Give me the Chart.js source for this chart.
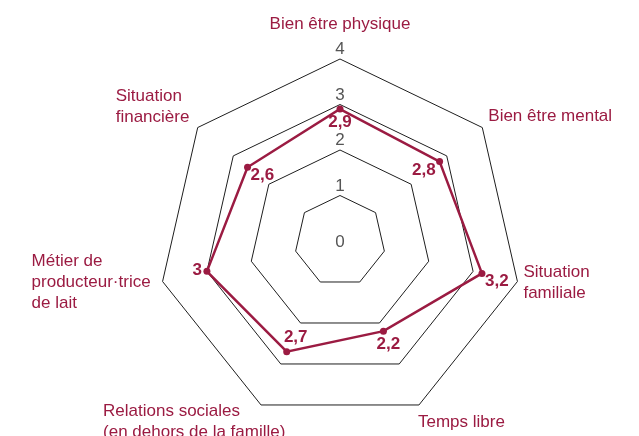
<!DOCTYPE html>
<html lang="fr">
<head>
<meta charset="utf-8">
<title>Bien-être des producteur·trices de lait</title>
<script src="https://cdn.jsdelivr.net/npm/chart.js@4/dist/chart.umd.min.js"></script>
<style>
  html, body { margin: 0; padding: 0; background: #ffffff; }
  #wrap { width: 639px; height: 436px; position: relative; overflow: hidden; }
</style>
</head>
<body>
<div id="wrap"><canvas id="radar" width="639" height="436"></canvas></div>
<script>
/* ── Data ───────────────────────────────────────────────────────────────────── */
const CATEGORIES = [
  ["Bien être physique"],
  ["Bien être mental"],
  ["Situation", "familiale"],
  ["Temps libre"],
  ["Relations sociales", "(en dehors de la famille)"],
  ["Métier de", "producteur·trice", "de lait"],
  ["Situation", "financière"],
];
const SCORES = [2.9, 2.8, 3.2, 2.2, 2.7, 3, 2.6];
const TICK_VALUES = [0, 1, 2, 3, 4];

/* ── Style ──────────────────────────────────────────────────────────────────── */
const CRIMSON = "#9b1b42";
const GRID = "#1e1e1e";
const TICK_COLOR = "#555555";
const FONT = '"Liberation Sans", Arial, Helvetica, sans-serif';

// label offsets from the outer vertex (category labels) / from the point (values)
const CAT_OFFSETS = [
  { dx: 0,    dy: -30,  align: "center" },
  { dx: 6,    dy: -7,   align: "left" },
  { dx: 6,    dy: -4,   align: "left" },
  { dx: -1,   dy: 22,   align: "left" },
  { dx: -158, dy: 11,   align: "left" },
  { dx: -131, dy: -15,  align: "left" },
  { dx: -82,  dy: -27,  align: "left" },
];
const VALUE_OFFSETS = [
  { dx: 0,  dy: 13,  align: "center" },
  { dx: -4, dy: 9,   align: "right" },
  { dx: 3,  dy: 8,   align: "left" },
  { dx: 5,  dy: 13,  align: "center" },
  { dx: 9,  dy: -14, align: "center" },
  { dx: -5, dy: -1,  align: "right" },
  { dx: 3,  dy: 8,   align: "left" },
];

/* ── Overlay plugin: tick numbers, category labels, value labels ───────────── */
const overlay = {
  id: "overlay",
  afterDraw(chart) {
    const ctx = chart.ctx;
    const r = chart.scales.r;
    ctx.save();

    // tick numbers, sitting just above the top vertex of each ring
    ctx.font = `17px ${FONT}`;
    ctx.fillStyle = TICK_COLOR;
    ctx.textAlign = "center";
    TICK_VALUES.forEach((v) => {
      const p = r.getPointPosition(0, r.getDistanceFromCenterForValue(v));
      if (v === 0) {
        ctx.textBaseline = "middle";
        ctx.fillText(String(v), p.x, p.y + 1);
      } else {
        ctx.textBaseline = "alphabetic";
        ctx.fillText(String(v), p.x, p.y - 5);
      }
    });

    // category labels
    ctx.fillStyle = CRIMSON;
    ctx.textBaseline = "alphabetic";
    CATEGORIES.forEach((lines, i) => {
      const p = r.getPointPosition(i, r.drawingArea);
      const o = CAT_OFFSETS[i];
      ctx.textAlign = o.align;
      lines.forEach((line, k) => {
        ctx.fillText(line, p.x + o.dx, p.y + o.dy + k * 21);
      });
    });

    // value labels (French decimal comma)
    ctx.font = `bold 17px ${FONT}`;
    ctx.textBaseline = "middle";
    const meta = chart.getDatasetMeta(0);
    meta.data.forEach((pt, i) => {
      const o = VALUE_OFFSETS[i];
      ctx.textAlign = o.align;
      ctx.fillText(String(SCORES[i]).replace(".", ","), pt.x + o.dx, pt.y + o.dy);
    });

    ctx.restore();
  },
};

/* ── Chart ──────────────────────────────────────────────────────────────────── */
new Chart(document.getElementById("radar"), {
  type: "radar",
  data: {
    labels: CATEGORIES,
    datasets: [{
      data: SCORES,
      borderColor: CRIMSON,
      backgroundColor: CRIMSON,
      borderWidth: 2.5,
      fill: false,
      pointRadius: 3.5,
      pointBorderWidth: 0,
      pointBackgroundColor: CRIMSON,
    }],
  },
  options: {
    responsive: false,
    animation: false,
    layout: { padding: { left: 158, top: 59, right: 117, bottom: 13 } },
    plugins: { legend: { display: false }, tooltip: { enabled: false } },
    scales: {
      r: {
        min: 0,
        max: 4,
        ticks: { display: false, stepSize: 1 },
        grid: { color: GRID, lineWidth: 1 },
        angleLines: { display: false },
        pointLabels: { display: false },
      },
    },
  },
  plugins: [overlay],
});
</script>
</body>
</html>
